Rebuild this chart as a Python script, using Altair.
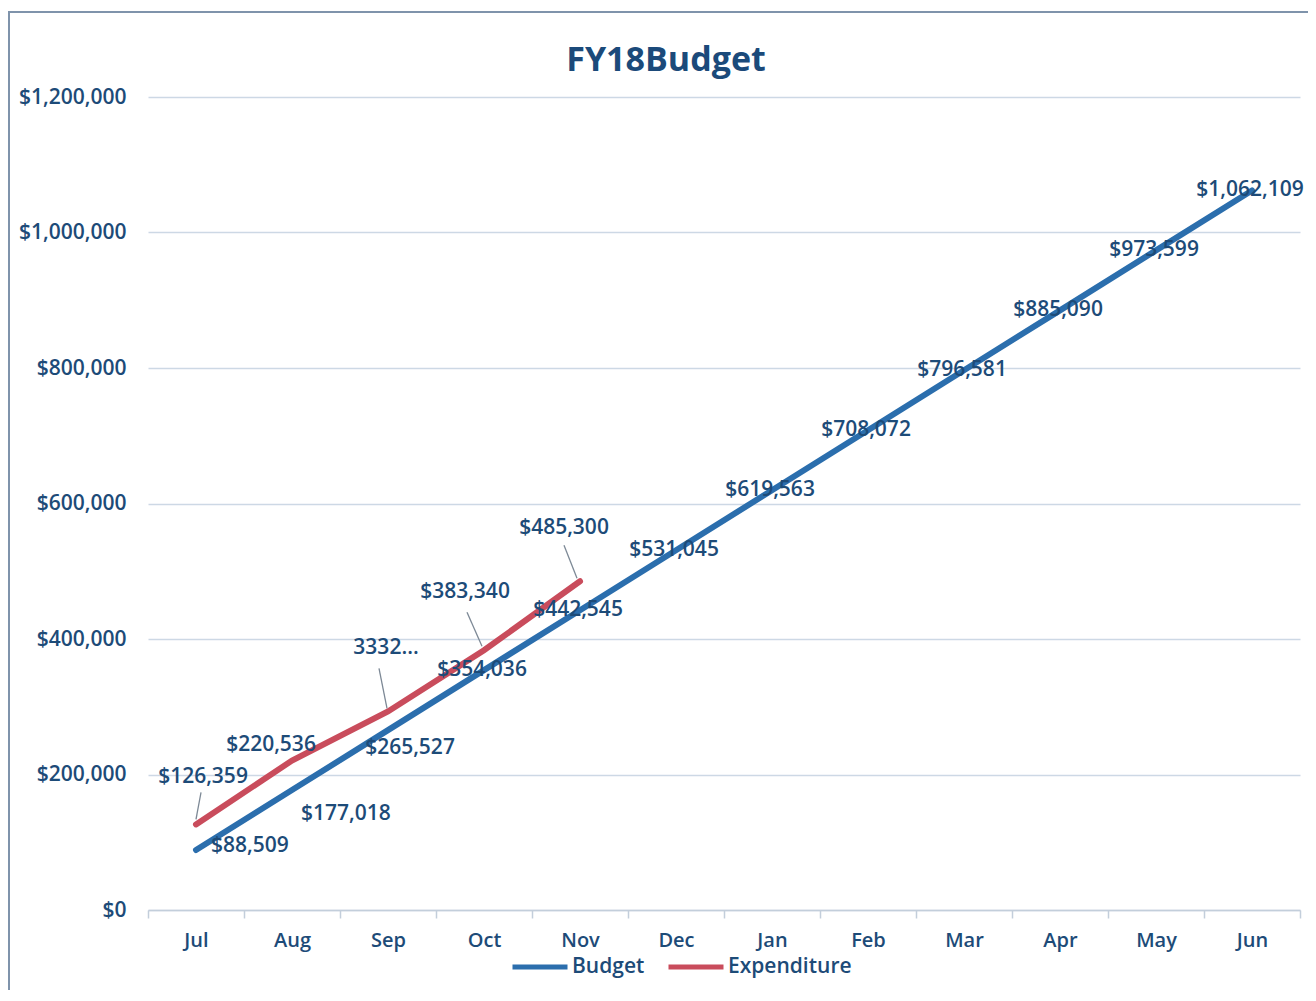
import altair as alt
import pandas as pd

months = ["Jul", "Aug", "Sep", "Oct", "Nov", "Dec", "Jan", "Feb", "Mar", "Apr", "May", "Jun"]
budget = [88509, 177018, 265527, 354036, 442545, 531045, 619563, 708072, 796581, 885090, 973599, 1062109]
budget_labels = ["$88,509", "$177,018", "$265,527", "$354,036", "$442,545", "$531,045",
                 "$619,563", "$708,072", "$796,581", "$885,090", "$973,599", "$1,062,109"]
exp_months = ["Jul", "Aug", "Sep", "Oct", "Nov"]
expenditure = [126359, 220536, 293000, 383340, 485300]
expenditure_labels = ["$126,359", "$220,536", "3332...", "$383,340", "$485,300"]
y_ticks = [0, 200000, 400000, 600000, 800000, 1000000, 1200000]
chart_title = "FY18Budget"

rows = []
for m, v, l in zip(months, budget, budget_labels):
    rows.append({"month": m, "series": "Budget", "value": v, "label": l})
for m, v, l in zip(exp_months, expenditure, expenditure_labels):
    rows.append({"month": m, "series": "Expenditure", "value": v, "label": l})
df = pd.DataFrame(rows)

FONT = "Open Sans"
TXT = "#1d4b78"
W = 600

x_enc = alt.X("month:N", sort=months,
              scale=alt.Scale(type="band", paddingInner=0, paddingOuter=0),
              bandPosition=0.5,
              axis=alt.Axis(title=None, tickBand="extent", domainColor="#c3cedb", domainWidth=1.5,
                            tickColor="#c3cedb", tickWidth=1.5, tickSize=8, labelFontSize=20,
                            labelColor=TXT, labelPadding=12, grid=False, labelFont=FONT,
                            labelFontWeight=W, labelAngle=0))
y_enc = alt.Y("value:Q", scale=alt.Scale(domain=[0, 1200000], nice=False),
              axis=alt.Axis(values=y_ticks, format="$,.0f", title=None, domain=False, ticks=False,
                            gridColor="#cdd8e5", gridWidth=1.5, labelFontSize=21, labelPadding=22,
                            labelColor=TXT, labelFont=FONT, labelFontWeight=W))

base = alt.Chart(df)

lines = base.mark_line(strokeWidth=6, strokeCap="round").encode(
    x=x_enc, y=y_enc,
    color=alt.Color("series:N", scale=alt.Scale(domain=["Budget", "Expenditure"],
                                                range=["#2b6ead", "#c94c5c"]),
                    legend=alt.Legend(title=None, orient="none", legendX=362, legendY=840,
                                      direction="horizontal", symbolType="stroke",
                                      symbolStrokeWidth=5, symbolSize=3025, labelFontSize=21,
                                      labelColor=TXT, labelFont=FONT, labelFontWeight=W,
                                      labelOffset=2, columnPadding=13)),
    order=alt.Order("series:N"),
)

layers = [lines]

# leader lines for expenditure labels (month, xOffset, yOffset, x2Offset, y2Offset)
leaders = [("Jul", 0, -5, 5, -32), ("Sep", -1, -3, -9, -43),
           ("Oct", -2, -4, -17, -38), ("Nov", -3, -3, -16, -36)]
for m, xo, yo, x2o, y2o in leaders:
    layers.append(
        base.transform_filter((alt.datum.series == "Expenditure") & (alt.datum.month == m))
        .mark_rule(color="#7d8996", strokeWidth=1.3, xOffset=xo, yOffset=yo,
                   x2Offset=x2o, y2Offset=y2o)
        .encode(x=alt.X("month:N", sort=months, bandPosition=0.5), x2=alt.X2("month:N"),
                y="value:Q", y2=alt.Y2("value:Q"))
    )

budget_style = {"Jul": ("left", 15, -4), "Aug": ("left", 9, 24), "Sep": ("center", 22, 18)}
for m in months:
    align, dx, dy = budget_style.get(m, ("center", -2, 0))
    layers.append(
        base.transform_filter((alt.datum.series == "Budget") & (alt.datum.month == m))
        .mark_text(align=align, baseline="middle", dx=dx, dy=dy, fontSize=21, font=FONT,
                   fontWeight=W, color=TXT)
        .encode(x=alt.X("month:N", sort=months, bandPosition=0.5), y="value:Q", text="label:N")
    )

exp_style = {"Jul": (7, -47), "Aug": (-21, -16), "Sep": (-2, -63), "Oct": (-19, -58), "Nov": (-16, -53)}
for m in exp_months:
    dx, dy = exp_style[m]
    layers.append(
        base.transform_filter((alt.datum.series == "Expenditure") & (alt.datum.month == m))
        .mark_text(align="center", baseline="middle", dx=dx, dy=dy, fontSize=21, font=FONT,
                   fontWeight=W, color=TXT)
        .encode(x=alt.X("month:N", sort=months, bandPosition=0.5), y="value:Q", text="label:N")
    )

single = alt.Data(values=[{}])
title_layer = alt.Chart(single).mark_text(
    text=chart_title, fontSize=34, fontWeight="bold", color="#1b4a7a", font=FONT,
    align="center", baseline="middle").encode(x=alt.value(518), y=alt.value(-36))
layers.append(title_layer)

frame = alt.Chart(single).mark_rect(fill=None, stroke="#7f93ab", strokeWidth=2).encode(
    x=alt.value(-139), y=alt.value(-85), x2=alt.value(1400), y2=alt.value(1100))
layers.append(frame)

chart = alt.layer(*layers).properties(
    width=1152, height=813,
    padding={"left": 140, "top": 89, "right": 8, "bottom": 80},
    autosize=alt.AutoSizeParams(type="none"),
    background="white",
).configure_view(stroke=None)

chart.save("out.html", embed_options={"renderer": "svg", "actions": False})
